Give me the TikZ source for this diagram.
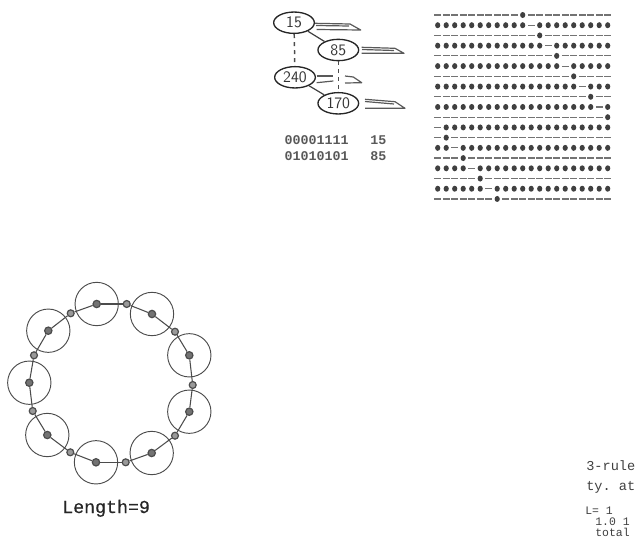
\documentclass[tikz,border=0pt]{standalone}
\usepackage{fontspec}
\setmonofont{Liberation Mono}
\newfontfamily\lengthfont[FakeBold=0.6]{Liberation Mono}
\usetikzlibrary{shapes.geometric}
\definecolor{scanink}{gray}{0.3}
\tikzset{
  bigring/.style={circle, draw=scanink, line width=0.7pt, minimum size=32.5pt, inner sep=0pt},
  hubdot/.style={circle, draw=scanink, fill=black!55, line width=0.9pt, minimum size=5.5pt, inner sep=0pt},
  linkdot/.style={circle, draw=scanink, fill=black!40, line width=0.9pt, minimum size=5.2pt, inner sep=0pt},
  cellnode/.style={ellipse, draw=black!85, line width=1pt, minimum width=30.5pt, minimum height=16pt, inner sep=0pt, font=\sffamily\fontsize{12}{13}\selectfont, text=black!80},
  flagline/.style={draw=black!65, line width=0.9pt, line join=round},
  linkline/.style={draw=scanink, line width=0.8pt},
  printout/.style={font=\ttfamily\bfseries\fontsize{10}{12}\selectfont, text=black!65, inner sep=0pt, anchor=base west},
  ruletext/.style={font=\ttfamily\fontsize{10.2}{11}\selectfont, text=black!75, inner sep=0pt, anchor=base west},
  tighttext/.style={font=\ttfamily\fontsize{8.6}{9}\selectfont, text=black!75, inner sep=0pt, anchor=base west},
}
\begin{document}
\begin{tikzpicture}[x=0.75pt, y=-0.75pt]
    \useasboundingbox (0,0) rectangle (635,539);

    % the four cells
    \node[cellnode] (n15) at (294,22.7) {15};
    \node[cellnode] (n85) at (338.3,50) {85};
    \node[cellnode] (n240) at (295,77.3) {240};
    \node[cellnode] (n170) at (338.3,103.3) {170};

    \draw[black!75, line width=0.9pt] (n15) -- (n85);
    \draw[black!75, line width=0.9pt] (n240) -- (n170);
    \draw[black!70, line width=1.1pt, dashed] (n15) -- (n240);
    \draw[black!70, line width=0.8pt, dashed] (n85) -- (n170);

    % flags beside the cells
    \draw[flagline] (315,23.3) -- (350,24) -- (360.7,30) -- (316.7,29.5);
    \draw[flagline] (316,25.5) -- (349,26);
    \draw[flagline] (361.7,47.3) -- (395,48.3) -- (404,53.3) -- (361.7,53.3);
    \draw[flagline] (362,49.5) -- (394,50.5);
    \draw[flagline] (316.7,76) -- (333.3,76);
    \draw[flagline] (316.7,82.7) -- (333.3,81);
    \draw[flagline] (345,76) -- (353.3,77) -- (361.7,82.7) -- (345,83);
    \draw[flagline] (365,99.3) -- (395,101.7) -- (405,108.3) -- (365,108.3);
    \draw[flagline] (365,101.5) -- (394,104);

    \node[printout] (codea) at (284.3,144.5) {00001111};
    \node[printout] (vala) at (370,144.5) {15};
    \node[printout] (codeb) at (284.3,160.5) {01010101};
    \node[printout] (valb) at (370,160.5) {85};

    % space-time printout
    \foreach \r in {0,...,18} {
        \pgfmathtruncatemacro{\mark}{mod(10+\r,21)}
        \pgfmathtruncatemacro{\odd}{mod(\r,2)}
        \pgfmathsetmacro{\yy}{15+10.22*\r}
        \foreach \c in {0,...,20} {
            \pgfmathsetmacro{\xx}{437.7+8.5*\c}
            \pgfmathtruncatemacro{\star}{\c==\mark ? 1 : 0}
            \pgfmathtruncatemacro{\round}{\odd==\star ? 0 : 1}
            \ifnum\round=1
                \fill[black!75] (\xx,\yy) ellipse (2.6 and 3);
            \else
                \draw[black!55, line width=0.9pt] (\xx-3.3,\yy) -- (\xx+3.3,\yy);
            \fi
        }
    }

    % ring of length 9
    \foreach \n/\x/\y in {1/96.7/304, 2/152/314, 3/189.3/355.3, 4/189.3/411.7, 5/151.7/453, 6/96/462.3, 7/47.3/435, 8/29.3/382.7, 9/48.3/330.7} {
        \node[bigring] (ring\n) at (\x,\y) {};
        \node[hubdot] (hub\n) at (\x,\y) {};
    }
    \foreach \n/\x/\y in {1/126.7/304, 2/175/331.7, 3/192.7/385, 4/175/435.7, 5/125.7/462.3, 6/70.3/452.3, 7/32.7/411, 8/34/355.3, 9/70.7/313.3} {
        \node[linkdot] (link\n) at (\x,\y) {};
    }
    \foreach \a/\b in {1/2, 2/3, 3/4, 4/5, 5/6, 6/7, 7/8, 8/9, 9/1} {
        \draw[linkline] (hub\a) -- (link\a);
        \draw[linkline] (link\a) -- (hub\b);
    }
    \node[printout, font=\lengthfont\fontsize{13.7}{15}\selectfont, text=black!85] (lengthlabel) at (62,513) {Length=9};

    % rule text cut off at the page edge
    \node[ruletext] (rulea) at (586,470) {3-rule};
    \node[ruletext] (ruleb) at (586,490) {ty. at};
    \node[tighttext] (rulec) at (585,514) {L= 1};
    \node[tighttext] (ruled) at (595,525) {1.0 1};
    \node[tighttext] (rulee) at (595,536) {total};
\end{tikzpicture}
\end{document}
